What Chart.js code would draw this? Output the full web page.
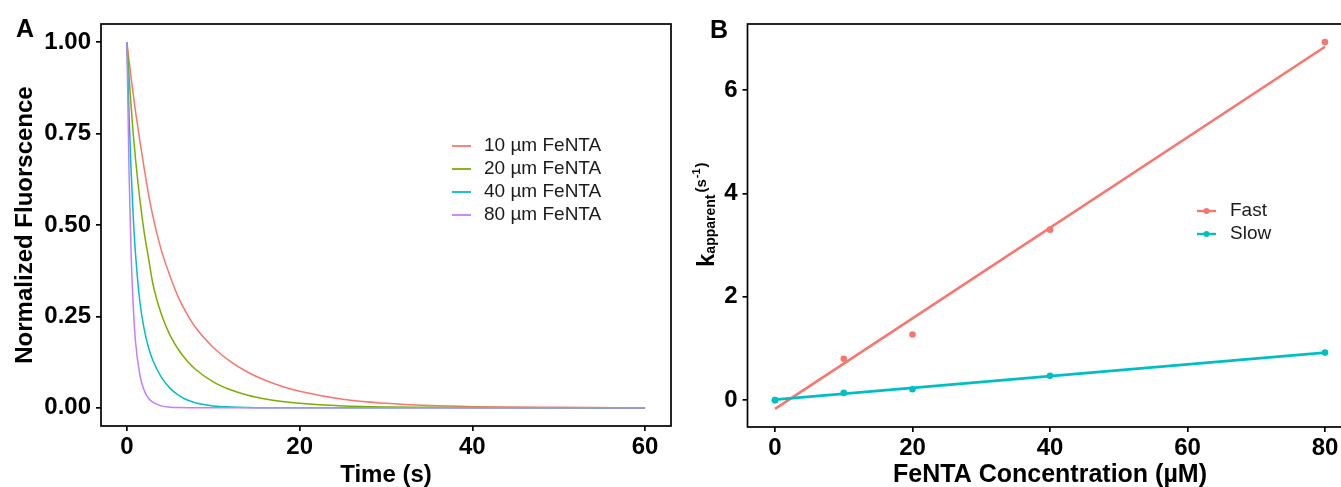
<!DOCTYPE html>
<html>
<head>
<meta charset="utf-8">
<script src="https://cdn.jsdelivr.net/npm/chart.js@4.4.0/dist/chart.umd.min.js"></script>
<style>
  html, body { margin: 0; padding: 0; background: #fff; }
  body { width: 1341px; height: 487px; position: relative; overflow: hidden; }
  canvas { position: absolute; top: 0; }
  #chartA { left: 0; }
  #chartB { left: 690px; }
  .tag { position: absolute; font: bold 25px "Liberation Sans", Arial, sans-serif; line-height: 25px; color: #000; }
</style>
</head>
<body>
<canvas id="chartA" width="680" height="487"></canvas>
<canvas id="chartB" width="680" height="487"></canvas>
<div class="tag" style="left:16px; top:16px;">A</div>
<div class="tag" style="left:710px; top:17px;">B</div>
<script>
'use strict'

// Panel A - normalized fluorescence decay curves
const times = [0, 0.25, 0.5, 0.75, 1, 1.5, 2, 2.5, 3, 4, 5, 6, 7, 8, 10, 12, 14, 16, 18, 20, 25, 30, 35, 40, 50, 60];
const fe10 = [1, 0.95, 0.90, 0.855, 0.81, 0.73, 0.655, 0.585, 0.525, 0.43, 0.36, 0.30, 0.255, 0.218, 0.165, 0.126, 0.097, 0.075, 0.058, 0.045, 0.023, 0.012, 0.006, 0.003, 0.001, 0];
const fe20 = [1, 0.905, 0.82, 0.745, 0.68, 0.57, 0.48, 0.41, 0.34, 0.255, 0.198, 0.158, 0.127, 0.104, 0.071, 0.049, 0.034, 0.024, 0.017, 0.012, 0.005, 0.002, 0.001, 0.0004, 0, 0];
const fe40 = [1, 0.80, 0.64, 0.515, 0.42, 0.29, 0.215, 0.165, 0.13, 0.083, 0.053, 0.034, 0.021, 0.013, 0.005, 0.002, 0.0005, 0, 0, 0, 0, 0, 0, 0, 0, 0];
const fe80 = [1, 0.64, 0.41, 0.27, 0.18, 0.09, 0.047, 0.026, 0.015, 0.005, 0.0015, 0.0004, 0, 0, 0, 0, 0, 0, 0, 0, 0, 0, 0, 0, 0, 0];
const seriesNamesA = ['10 µm FeNTA', '20 µm FeNTA', '40 µm FeNTA', '80 µm FeNTA'];
const colorsA = ['#F8766D', '#7CAE00', '#00BFC4', '#C77CFF'];
const xTicksA = [0, 20, 40, 60];
const yTicksA = [0, 0.25, 0.5, 0.75, 1];

// Panel B - apparent rate constants vs FeNTA concentration
const concB = [0, 10, 20, 40, 80];
const fastK = [0, 0.80, 1.27, 3.30, 6.93];
const slowK = [0, 0.14, 0.21, 0.47, 0.92];
const fitX = [0, 80];
const fastFit = [-0.17, 6.84];
const slowFit = [0.01, 0.92];
const seriesNamesB = ['Fast', 'Slow'];
const colorsB = ['#F8766D', '#00BFC4'];
const xTicksB = [0, 20, 40, 60, 80];
const yTicksB = [0, 2, 4, 6];

Chart.defaults.font.family = '"Liberation Sans", Arial, sans-serif';
Chart.defaults.color = '#000';

function toPoints(xs, ys) {
  return xs.map((x, i) => ({x: x, y: ys[i]}));
}

// box round the plot area, like the ggplot panel border
const framePlugin = {
  id: 'frame',
  afterDatasetsDraw(chart) {
    const ctx = chart.ctx;
    const a = chart.chartArea;
    ctx.save();
    ctx.strokeStyle = '#000';
    ctx.lineWidth = 1.7;
    ctx.strokeRect(a.left, a.top, a.right - a.left, a.bottom - a.top);
    ctx.restore();
  }
};

// legend drawn inside the plot area
const insideLegend = {
  id: 'insideLegend',
  afterDraw(chart, args, opts) {
    const ctx = chart.ctx;
    ctx.save();
    ctx.font = '19px "Liberation Sans", Arial, sans-serif';
    ctx.textBaseline = 'middle';
    opts.labels.forEach((lab, i) => {
      const y = opts.y + i * opts.rowGap;
      ctx.strokeStyle = opts.colors[i];
      ctx.lineWidth = opts.lineWidth;
      ctx.beginPath();
      ctx.moveTo(opts.x, y);
      ctx.lineTo(opts.x + opts.keyWidth, y);
      ctx.stroke();
      if (opts.dot) {
        ctx.fillStyle = opts.colors[i];
        ctx.beginPath();
        ctx.arc(opts.x + opts.keyWidth / 2, y, opts.dot, 0, Math.PI * 2);
        ctx.fill();
      }
      ctx.fillStyle = '#1a1a1a';
      ctx.fillText(lab, opts.textX, y);
    });
    ctx.restore();
  }
};

// y title for B: k with subscript "apparent" and (s^-1)
const kTitle = {
  id: 'kTitle',
  afterDraw(chart, args, opts) {
    if (!opts.show) return;
    const ctx = chart.ctx;
    ctx.save();
    ctx.translate(opts.x, opts.y);
    ctx.rotate(-Math.PI / 2);
    ctx.fillStyle = '#000';
    ctx.textBaseline = 'alphabetic';
    let pos = 0;
    const parts = [
      {t: 'k', f: 'bold 24px', dy: 0, gap: 0},
      {t: 'apparent', f: 'bold 14px', dy: 1, gap: 2},
      {t: '(s', f: 'bold 15px', dy: -8, gap: 1},
      {t: '-1', f: 'bold 11px', dy: -14, gap: 1},
      {t: ')', f: 'bold 15px', dy: -8, gap: 0}
    ];
    parts.forEach(p => {
      ctx.font = p.f + ' "Liberation Sans", Arial, sans-serif';
      ctx.fillText(p.t, pos, p.dy);
      pos += ctx.measureText(p.t).width + p.gap;
    });
    ctx.restore();
  }
};

function axisOpts(min, max, tickValues, fmt, fixedSize, isX, title) {
  return {
    type: 'linear',
    min: min,
    max: max,
    afterBuildTicks(scale) {
      scale.ticks = tickValues.map(v => ({value: v}));
    },
    afterFit(scale) {
      if (isX) scale.height = fixedSize; else scale.width = fixedSize;
    },
    grid: {display: true, drawOnChartArea: false, drawTicks: true, tickLength: 5, color: '#000', lineWidth: 1.7},
    border: {display: false},
    ticks: {
      font: {size: 24, weight: 'bold'},
      color: '#000',
      padding: isX ? 2 : 5,
      maxRotation: 0,
      autoSkip: false,
      callback: fmt
    },
    title: title
  };
}

// ---- Panel A ----
let datasetsA = [fe10, fe20, fe40, fe80].map((vals, i) => ({
  label: seriesNamesA[i],
  data: toPoints(times, vals),
  borderColor: colorsA[i],
  backgroundColor: colorsA[i],
  borderWidth: 1.5,
  pointRadius: 0,
  showLine: true,
  cubicInterpolationMode: 'monotone',
  order: 3 - i
}));

new Chart(document.getElementById('chartA'), {
  type: 'scatter',
  data: {datasets: datasetsA},
  options: {
    responsive: false,
    animation: false,
    layout: {padding: {left: 0, top: 24, right: 9, bottom: 0}},
    plugins: {
      legend: {display: false},
      tooltip: {enabled: false},
      insideLegend: {x: 452, textX: 484, y: 146, rowGap: 23, keyWidth: 19, lineWidth: 1.8, colors: colorsA, labels: seriesNamesA},
      kTitle: {show: false}
    },
    scales: {
      x: axisOpts(-3, 63, xTicksA, v => v, 61, true,
        {display: true, text: 'Time (s)', font: {size: 24, weight: 'bold'}, padding: {top: 0, bottom: -3}}),
      y: axisOpts(-0.05, 1.05, yTicksA, v => v.toFixed(2), 101, false,
        {display: true, text: 'Normalized Fluorscence', font: {size: 24, weight: 'bold'}, padding: {top: 11, bottom: 0}})
    }
  },
  plugins: [framePlugin, insideLegend, kTitle]
});

// ---- Panel B ----
let datasetsB = [
  {label: 'Fast', data: toPoints(concB, fastK), backgroundColor: colorsB[0], borderColor: colorsB[0], pointRadius: 3.3, pointBorderWidth: 0, showLine: false, order: 4},
  {label: 'Fast fit', data: toPoints(fitX, fastFit), borderColor: colorsB[0], borderWidth: 2.6, pointRadius: 0, showLine: true, order: 3},
  {label: 'Slow', data: toPoints(concB, slowK), backgroundColor: colorsB[1], borderColor: colorsB[1], pointRadius: 3.3, pointBorderWidth: 0, showLine: false, order: 2},
  {label: 'Slow fit', data: toPoints(fitX, slowFit), borderColor: colorsB[1], borderWidth: 2.6, pointRadius: 0, showLine: true, order: 1}
];

new Chart(document.getElementById('chartB'), {
  type: 'scatter',
  data: {datasets: datasetsB},
  options: {
    responsive: false,
    animation: false,
    layout: {padding: {left: 0, top: 24, right: 17.5, bottom: 0}},
    plugins: {
      legend: {display: false},
      tooltip: {enabled: false},
      insideLegend: {x: 507, textX: 540, y: 211, rowGap: 23, keyWidth: 19, lineWidth: 2.4, dot: 3, colors: colorsB, labels: seriesNamesB},
      kTitle: {show: true, x: 24, y: 267}
    },
    scales: {
      x: axisOpts(-4, 84, xTicksB, v => v, 60, true,
        {display: true, text: 'FeNTA Concentration (µM)', font: {size: 25, weight: 'bold'}, padding: {top: 0, bottom: -3}}),
      y: axisOpts(-0.52, 7.28, yTicksB, v => v, 57.5, false,
        {display: false})
    }
  },
  plugins: [framePlugin, insideLegend, kTitle]
});
</script>
</body>
</html>
